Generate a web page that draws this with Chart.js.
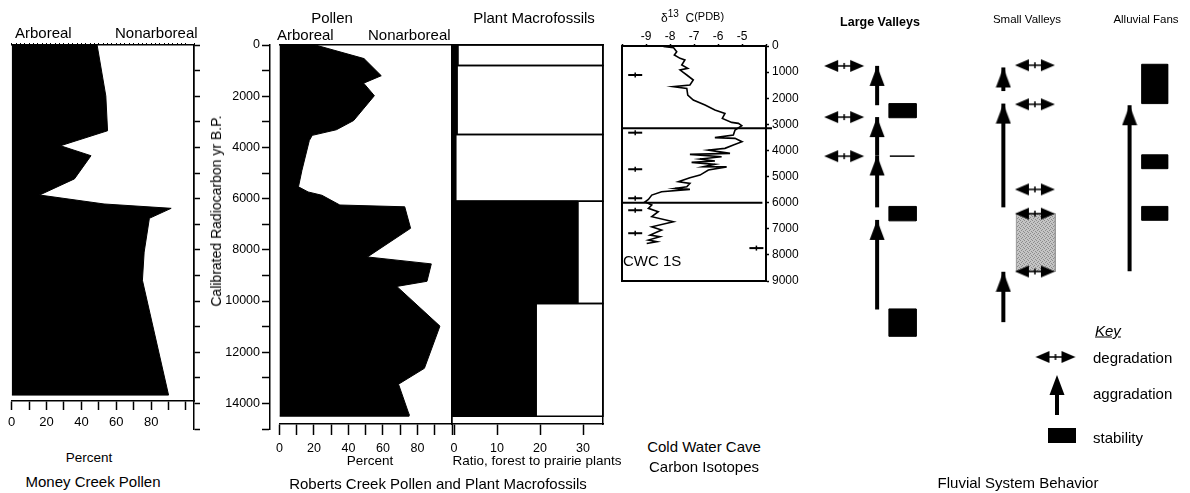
<!DOCTYPE html>
<html>
<head>
<meta charset="utf-8">
<title>Pollen, macrofossil, isotope and fluvial records</title>
<script src="https://cdn.jsdelivr.net/npm/chart.js@4.4.1/dist/chart.umd.min.js"></script>
<style>
  html, body { margin: 0; padding: 0; background: #fff; }
  body { position: relative; width: 1190px; height: 493px; overflow: hidden;
         font-family: "Liberation Sans", Arial, sans-serif; color: #000; }
  canvas { position: absolute; }
  .lbl { position: absolute; white-space: nowrap; line-height: 1; font-size: 15px; }
</style>
</head>
<body>
<script>
// ---------------- data (ages in calibrated yr B.P.) ----------------

// Money Creek pollen, arboreal percent
const mcAges     = [0, 1990, 3350, 3935, 4325, 5230, 5860, 6210, 6380, 6770, 8090, 9190, 13675];
const mcArboreal = [49, 54, 55, 28, 45.5, 36, 16, 53, 91.5, 79, 76, 75, 90];

// Roberts Creek pollen, arboreal percent
const rcAges     = [0, 530, 1200, 1490, 1980, 2950, 3310, 3530, 3730, 4900, 5540, 5740, 5870,
                    6250, 6320, 7160, 8280, 8550, 9230, 9430, 10980, 12630, 13250, 14410, 14500];
const rcArboreal = [20.8, 49, 59, 48.8, 55, 43, 33, 19, 17.3, 13, 11, 16.6, 24.6,
                    35, 72.6, 76, 51, 88, 85.5, 68, 93, 84, 69, 75, 75];

// Roberts Creek plant macrofossils, ratio forest to prairie plants
const macroTop    = [0, 800, 3500, 6100, 10100];
const macroBottom = [800, 3500, 6100, 10100, 14500];
const macroRatio  = [0.9, 0.7, 0.4, 28.8, 19.1];

// Cold Water Cave CWC 1S, d13C (PDB)
const cwcAges = [0, 40, 70, 218, 345, 472, 536, 728, 855, 920, 1111, 1303, 1494, 1558, 1622, 1877,
                 2069, 2260, 2452, 2580, 2772, 2925, 2963, 3052, 3218, 3410, 3510, 3537, 3665, 3793,
                 3920, 3985, 4112, 4150, 4240, 4330, 4406, 4457, 4534, 4625, 4630, 4751, 4943, 5045,
                 5198, 5261, 5390, 5452, 5490, 5582, 5710, 5874, 5965, 6092, 6218, 6347, 6538, 6730,
                 6923, 7050, 7241, 7305, 7433, 7497, 7561];
const cwcD13C = [-7.9, -8.1, -7.85, -7.72, -7.82, -7.58, -7.38, -7.51, -7.26, -7.58, -7.3, -7.03,
                 -7.17, -7.86, -7.3, -7.26, -7.03, -6.54, -6.13, -5.71, -5.82, -5.43, -5.15, -5.01,
                 -5.29, -5.36, -6.13, -5.29, -5.0, -5.36, -5.71, -6.4, -5.5, -7.17, -5.85, -6.75,
                 -6.13, -7.1, -6.13, -6.61, -5.64, -6.4, -6.75, -7.17, -7.65, -7.17, -7.3, -7.79,
                 -7.17, -8.35, -8.76, -8.9, -9.04, -8.76, -8.9, -8.49, -8.76, -7.86, -8.76, -8.35,
                 -8.83, -8.42, -8.9, -8.55, -8.97];
const cwcEvents     = [3150, 6000];
const cwcDatesLeft  = [1110, 3320, 4720, 5830, 6290, 7170];
const cwcDatesRight = [7740];

// tick labels
const pctLabels    = [0, 20, 40, 60, 80];
const ratioLabels  = [0, 10, 20, 30];
const ageLabels    = [0, 2000, 4000, 6000, 8000, 10000, 12000, 14000];
const d13cLabels   = [-9, -8, -7, -6, -5];
const cwcAgeLabels = [0, 1000, 2000, 3000, 4000, 5000, 6000, 7000, 8000, 9000];

// fluvial system behaviour
const lvDegradation = [345, 2425, 4011];
const lvAggTip      = [345, 2425, 3985, 6602];
const lvAggBase     = [1943, 3985, 6092, 10241];
const lvStabTop     = [1877, 6054, 10218];
const lvStabBottom  = [2452, 6640, 11330];
const lvStabLine    = [4011];
const svAggTip      = [410, 1877, 8709];
const svAggBase     = [1368, 6092, 10755];
const svDegradation = [318, 1904, 5364, 6349, 8697];
const svGrayTop     = [6349];
const svGrayBottom  = [8697];
const afStabTop     = [280, 3958, 6054];
const afStabBottom  = [1877, 4521, 6617];
const afAggTip      = [1943];
const afAggBase     = [8686];

// ---------------- layout ----------------
const Y0 = 45, PX_KYR = 25.6;          // pollen panels: age 0 at y=45, 25.6 px per 1000 yr
const CWC_Y0 = 46, CWC_PX_KYR = 26.1;  // cave panel and fluvial columns
const ageAt = px => (px - Y0) / PX_KYR * 1000;
const cwcAgeAt = px => (px - CWC_Y0) / CWC_PX_KYR * 1000;

Chart.defaults.font.family = '"Liberation Sans", Arial, sans-serif';
Chart.defaults.color = '#000';
Chart.defaults.borderColor = '#000';

function panel(left, top, w, h, padding, config) {
  const c = document.createElement('canvas');
  c.width = w; c.height = h;
  c.style.left = left + 'px'; c.style.top = top + 'px';
  document.body.appendChild(c);
  const o = config.options || {};
  o.responsive = false; o.animation = false; o.devicePixelRatio = 1; o.events = [];
  o.layout = { padding };
  o.plugins = Object.assign({ legend: { display: false }, tooltip: { enabled: false } }, o.plugins || {});
  config.options = o;
  return new Chart(c, config);
}

function borderOnly(pos, min, max, reverse, width) {
  return {
    type: 'linear', position: pos, min, max, reverse: !!reverse,
    ticks: { display: false },
    grid: { drawOnChartArea: false, drawTicks: false },
    border: { display: true, color: '#000', width: width || 1.5 },
    afterFit: s => { if (s.isHorizontal()) s.height = 0; else s.width = 0; }
  };
}

function polygon(points, extra) {
  return Object.assign({
    data: points, showLine: true, fill: 'shape', backgroundColor: '#000',
    borderColor: '#000', borderWidth: 1, pointRadius: 0
  }, extra || {});
}

function rect(x0, x1, a0, a1) {
  return [{ x: x0, y: a0 }, { x: x1, y: a0 }, { x: x1, y: a1 }, { x: x0, y: a1 }, { x: x0, y: a0 }];
}

// ---------------- Money Creek pollen ----------------
const mcMaxX = 104.6;
const mcPoly = [{ x: 0, y: 0 }]
  .concat(mcAges.map((a, i) => ({ x: mcArboreal[i], y: a })))
  .concat([{ x: 0, y: mcAges[mcAges.length - 1] }]);

panel(0, 0, 210, 440, { left: 11.7, right: 16, top: 43, bottom: 9 }, {
  type: 'scatter',
  data: { datasets: [polygon(mcPoly)] },
  options: {
    scales: {
      x: {
        type: 'linear', position: 'bottom', min: 0, max: mcMaxX,
        ticks: { stepSize: 10, includeBounds: false, autoSkip: false, maxRotation: 0, padding: 5,
                 font: { size: 13 }, callback: v => pctLabels.includes(v) ? v : '' },
        grid: { drawOnChartArea: false, tickLength: 9, tickWidth: 1.5 },
        border: { color: '#000', width: 1.5 },
        afterFit: s => { s.height = 30; }
      },
      xTop: {
        type: 'linear', position: 'top', min: 0, max: mcMaxX,
        ticks: { display: false, stepSize: 2.5 },
        grid: { drawOnChartArea: false, tickLength: 2, tickWidth: 1 },
        border: { color: '#000', width: 1.5 },
        afterFit: s => { s.height = 2; }
      },
      y: borderOnly('right', 0, ageAt(401), true)
    }
  }
});

// Money Creek age axis (ticks only, extends below the plot)
panel(180, 0, 30, 470, { left: 13, right: 8, top: 45, bottom: 41 }, {
  type: 'scatter',
  data: { datasets: [] },
  options: {
    scales: {
      x: { type: 'linear', display: false, min: 0, max: 1 },
      y: {
        type: 'linear', position: 'right', min: 0, max: 15000, reverse: true,
        ticks: { display: false, stepSize: 1000, includeBounds: false },
        grid: { drawOnChartArea: false, tickLength: 6, tickWidth: 1.5 },
        border: { color: '#000', width: 1.5 },
        afterFit: s => { s.width = 8; }
      }
    }
  }
});

// ---------------- Roberts Creek age axis ----------------
panel(200, 0, 80, 440, { left: 0, right: 9, top: 45, bottom: 11 }, {
  type: 'scatter',
  data: { datasets: [] },
  options: {
    scales: {
      x: { type: 'linear', display: false, min: 0, max: 1 },
      y: {
        type: 'linear', position: 'left', min: 0, max: 15000, reverse: true,
        ticks: { stepSize: 1000, includeBounds: false, autoSkip: false, padding: 2,
                 font: { size: 12.5 }, callback: v => ageLabels.includes(v) ? v : '' },
        grid: { drawOnChartArea: false, tickLength: 8, tickWidth: 1.5 },
        border: { color: '#000', width: 1.5 },
        afterFit: s => { s.width = 70; }
      }
    }
  }
});

// ---------------- Roberts Creek pollen ----------------
const rcPoly = [{ x: 0, y: 0 }]
  .concat(rcAges.map((a, i) => ({ x: rcArboreal[i], y: a })))
  .concat([{ x: 0, y: rcAges[rcAges.length - 1] }]);

panel(270, 0, 190, 480, { left: 6.5, right: 8, top: 45, bottom: 26 }, {
  type: 'scatter',
  data: { datasets: [polygon(rcPoly)] },
  options: {
    scales: {
      x: {
        type: 'linear', position: 'bottom', min: 0, max: 100,
        ticks: { stepSize: 10, includeBounds: false, autoSkip: false, maxRotation: 0, padding: 6,
                 font: { size: 12.5 }, callback: v => pctLabels.includes(v) ? v : '' },
        grid: { drawOnChartArea: false, tickLength: 11, tickWidth: 1.5 },
        border: { color: '#000', width: 1.5 },
        afterFit: s => { s.height = 30; }
      },
      xTop: borderOnly('top', 0, 100, false),
      y: borderOnly('right', 0, ageAt(424), true)
    }
  }
});

// ---------------- Roberts Creek plant macrofossils ----------------
const macroMin = -0.47, macroMax = 34.65;
const macroSets = [];
macroTop.forEach((t, i) => {
  macroSets.push(polygon(rect(macroMin, macroRatio[i], t, macroBottom[i])));
  macroSets.push({
    data: rect(macroMin, macroMax, t, macroBottom[i]), showLine: true, fill: false,
    borderColor: '#000', borderWidth: 1.5, pointRadius: 0, clip: false
  });
});

panel(440, 0, 170, 480, { left: 12, right: 7, top: 45, bottom: 26 }, {
  type: 'scatter',
  data: { datasets: macroSets },
  options: {
    scales: {
      x: {
        type: 'linear', position: 'bottom', min: macroMin, max: macroMax,
        ticks: { stepSize: 10, includeBounds: false, autoSkip: false, maxRotation: 0, padding: 6,
                 font: { size: 12.5 }, callback: v => ratioLabels.includes(v) ? v : '' },
        grid: { drawOnChartArea: false, tickLength: 11, tickWidth: 1.5 },
        border: { color: '#000', width: 1.5 },
        afterFit: s => { s.height = 30; }
      },
      xTop: borderOnly('top', macroMin, macroMax, false),
      y: borderOnly('left', 0, ageAt(424), true),
      y2: borderOnly('right', 0, ageAt(424), true)
    }
  }
});

// ---------------- Cold Water Cave ----------------
const cwcCurve = cwcAges.map((a, i) => ({ x: cwcD13C[i], y: a }));
const cwcDates = cwcDatesLeft.map(a => ({ x: -9.45, y: a })).concat(cwcDatesRight.map(a => ({ x: -4.4, y: a })));
const cwcSets = [
  { data: cwcCurve, showLine: true, borderColor: '#000', borderWidth: 1.6, pointRadius: 0, xAxisID: 'xTop', yAxisID: 'yRight' },
  { data: [{ x: -10, y: cwcEvents[0] }, { x: -3.75, y: cwcEvents[0] }], showLine: true, borderColor: '#000',
    borderWidth: 2, pointRadius: 0, clip: false, xAxisID: 'xTop', yAxisID: 'yRight' },
  { data: [{ x: -10, y: cwcEvents[1] }, { x: -4.15, y: cwcEvents[1] }], showLine: true, borderColor: '#000',
    borderWidth: 2, pointRadius: 0, clip: false, xAxisID: 'xTop', yAxisID: 'yRight' },
  { data: cwcDates, pointStyle: 'line', pointRadius: 7, pointBorderWidth: 2, borderColor: '#000',
    xAxisID: 'xTop', yAxisID: 'yRight' },
  { data: cwcDates, pointStyle: 'line', pointRotation: 90, pointRadius: 2.5, pointBorderWidth: 1.5,
    borderColor: '#000', xAxisID: 'xTop', yAxisID: 'yRight' }
];

panel(600, 0, 200, 300, { left: 22, right: 0, top: 26, bottom: 19 }, {
  type: 'scatter',
  data: { datasets: cwcSets },
  options: {
    scales: {
      xTop: {
        type: 'linear', position: 'top', min: -10, max: -4,
        ticks: { stepSize: 1, includeBounds: false, autoSkip: false, maxRotation: 0, padding: 0,
                 font: { size: 12 }, callback: v => d13cLabels.includes(v) ? v : '' },
        grid: { drawOnChartArea: false, tickLength: 2, tickWidth: 1.5 },
        border: { color: '#000', width: 2 },
        afterFit: s => { s.height = 20; }
      },
      xBot: borderOnly('bottom', -10, -4, false, 2),
      yLeft: borderOnly('left', 0, 9000, true, 2),
      yRight: {
        type: 'linear', position: 'right', min: 0, max: 9000, reverse: true,
        ticks: { stepSize: 1000, includeBounds: false, autoSkip: false, padding: 3,
                 font: { size: 12 }, callback: v => cwcAgeLabels.includes(v) ? v : '' },
        grid: { drawOnChartArea: false, tickLength: 3, tickWidth: 1.5 },
        border: { color: '#000', width: 2 },
        afterFit: s => { s.width = 34; }
      }
    }
  }
});

// ---------------- Fluvial system behaviour ----------------
// column positions (px from the panel's left edge)
const LV_DEG = 32.5, LV_AGG = 68, LV_STAB = [80.7, 110], LV_LINE = [81.7, 108.3];
const SV_AGG = 204, SV_DEG = 238, SV_GRAY = [218, 260];
const AF_AGG = 340, AF_STAB = [353, 381];

function headImage() {
  const c = document.createElement('canvas');
  c.width = 16; c.height = 44;
  const g = c.getContext('2d');
  g.fillStyle = '#000';
  g.beginPath(); g.moveTo(8, 22); g.lineTo(15.5, 42); g.lineTo(0.5, 42); g.closePath(); g.fill();
  return c;
}
function degradationImage() {
  const c = document.createElement('canvas');
  c.width = 42; c.height = 14;
  const g = c.getContext('2d');
  g.fillStyle = '#000'; g.strokeStyle = '#000'; g.lineWidth = 1.5;
  g.beginPath(); g.moveTo(1, 7); g.lineTo(15, 1); g.lineTo(15, 13); g.closePath(); g.fill();
  g.beginPath(); g.moveTo(41, 7); g.lineTo(27, 1); g.lineTo(27, 13); g.closePath(); g.fill();
  g.beginPath(); g.moveTo(14, 7); g.lineTo(28, 7); g.moveTo(21, 4); g.lineTo(21, 10); g.stroke();
  return c;
}
function stipple() {
  const c = document.createElement('canvas');
  c.width = 4; c.height = 4;
  const g = c.getContext('2d');
  g.fillStyle = '#c4c4c4'; g.fillRect(0, 0, 4, 4);
  g.fillStyle = '#8c8c8c';
  g.fillRect(0, 0, 1, 1); g.fillRect(2, 1, 1, 1); g.fillRect(1, 2, 1, 1); g.fillRect(3, 3, 1, 1);
  return g.createPattern(c, 'repeat');
}
const HEAD = headImage(), DEGR = degradationImage();

function aggArrow(x, base, tip) {
  return { data: [{ x, y: base }, { x, y: tip }], showLine: true, borderColor: '#000', borderWidth: 4,
           borderCapStyle: 'butt', pointStyle: HEAD, pointRadius: [0, 10], clip: false, order: 1 };
}
function degrArrows(x, ages) {
  return { data: ages.map(a => ({ x, y: a })), pointStyle: DEGR, pointRadius: 10, clip: false, order: 0 };
}

const fvSets = [];
svGrayTop.forEach((t, i) => fvSets.push(polygon(rect(SV_GRAY[0], SV_GRAY[1], t, svGrayBottom[i]),
  { backgroundColor: stipple(), borderColor: '#9a9a9a', order: 2 })));
lvStabTop.forEach((t, i) => fvSets.push(polygon(rect(LV_STAB[0], LV_STAB[1], t, lvStabBottom[i]), { order: 2 })));
afStabTop.forEach((t, i) => fvSets.push(polygon(rect(AF_STAB[0], AF_STAB[1], t, afStabBottom[i]), { order: 2 })));
lvStabLine.forEach(a => fvSets.push({ data: [{ x: LV_LINE[0], y: a }, { x: LV_LINE[1], y: a }], showLine: true,
  borderColor: '#000', borderWidth: 1.5, pointRadius: 0, order: 2 }));
lvAggTip.forEach((t, i) => fvSets.push(aggArrow(LV_AGG, lvAggBase[i], t)));
svAggTip.forEach((t, i) => fvSets.push(aggArrow(SV_AGG, svAggBase[i], t)));
afAggTip.forEach((t, i) => fvSets.push(aggArrow(AF_AGG, afAggBase[i], t)));
fvSets.push(degrArrows(LV_DEG, lvDegradation));
fvSets.push(degrArrows(SV_DEG, svDegradation));

// key symbols
const keyPlugin = {
  id: 'fluvialKey',
  afterDraw(chart) {
    const g = chart.ctx;
    g.save();
    g.drawImage(DEGR, 255.5 - 21, 357 - 7);
    g.fillStyle = '#000';
    g.fillRect(255, 392, 4, 23);
    g.drawImage(HEAD, 257 - 8, 375 - 22);
    g.fillRect(248, 428, 28, 15);
    g.restore();
  }
};

panel(800, 0, 390, 493, 0, {
  type: 'scatter',
  data: { datasets: fvSets },
  options: {
    scales: {
      x: { type: 'linear', display: false, min: 0, max: 390 },
      y: { type: 'linear', display: false, min: cwcAgeAt(0), max: cwcAgeAt(493), reverse: true }
    }
  },
  plugins: [keyPlugin]
});

// ---------------- text ----------------
function label(html, x, y, style, anchor) {
  const d = document.createElement('div');
  d.className = 'lbl';
  d.innerHTML = html;
  d.style.left = x + 'px';
  d.style.top = y + 'px';
  d.style.transform = anchor === 'l' ? 'translate(0,-50%)' : 'translate(-50%,-50%)';
  if (style) d.style.cssText += style;
  document.body.appendChild(d);
  return d;
}

label('Arboreal', 15, 32, '', 'l');
label('Nonarboreal', 115, 32, '', 'l');
label('Percent', 89, 458, 'font-size:13.5px');
label('Money Creek Pollen', 93, 481);

label('Pollen', 332, 17);
label('Arboreal', 277, 34, '', 'l');
label('Nonarboreal', 368, 34, '', 'l');
label('Plant Macrofossils', 534, 17);
label('Percent', 370, 461, 'font-size:13.5px');
label('Ratio, forest to prairie plants', 537, 461, 'font-size:13.5px');
label('Roberts Creek Pollen and Plant Macrofossils', 438, 483);
label('Calibrated Radiocarbon yr B.P.', 216, 211, 'font-size:14px').style.transform =
  'translate(-50%,-50%) rotate(-90deg)';

label('\u03b4<span style="font-size:10px;position:relative;top:-5px">13</span>&nbsp;&nbsp;C' +
      '<span style="font-size:11px;position:relative;top:-2px">(PDB)</span>', 661, 18, 'font-size:12px', 'l');
label('CWC 1S', 623, 260, '', 'l');
label('Cold Water Cave', 704, 446);
label('Carbon Isotopes', 704, 466);

label('Large Valleys', 880, 22, 'font-size:12.5px;font-weight:bold');
label('Small Valleys', 1027, 20, 'font-size:11.5px');
label('Alluvial Fans', 1146, 20, 'font-size:11.5px');
label('Key', 1095, 330, 'font-style:italic;text-decoration:underline', 'l');
label('degradation', 1093, 357, '', 'l');
label('aggradation', 1093, 393, '', 'l');
label('stability', 1093, 437, '', 'l');
label('Fluvial System Behavior', 1018, 482);
</script>
</body>
</html>
